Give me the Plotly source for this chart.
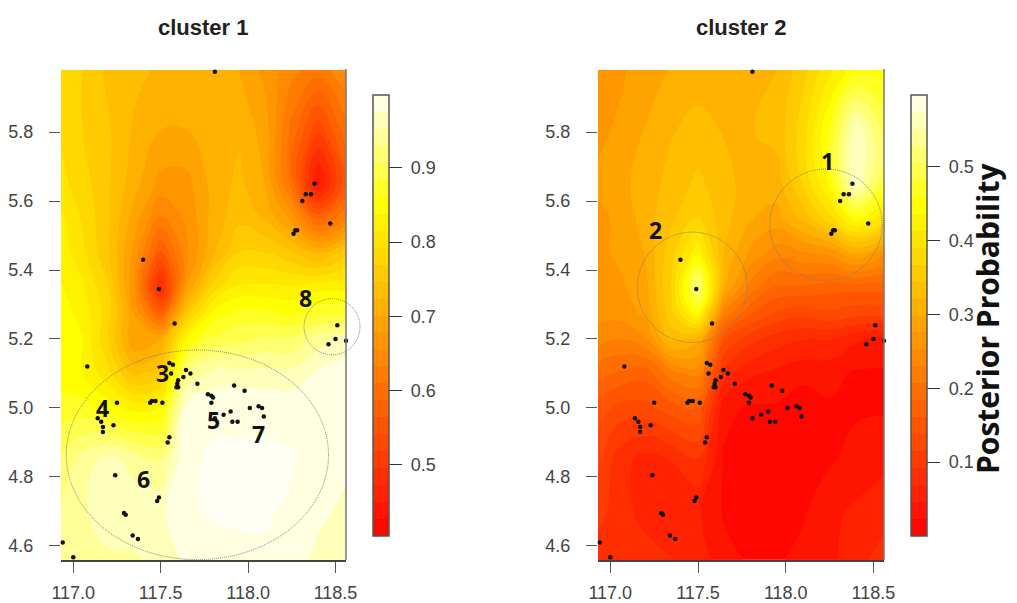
import plotly.graph_objects as go

W, H = 1017, 603
PAGE = 8  # the page's own margin round the figure

lons = [116.93, 117.05, 117.2, 117.35, 117.5, 117.65, 117.8, 117.95, 118.1, 118.25, 118.4, 118.56]
lats = [4.56, 4.7, 4.85, 5.0, 5.1, 5.2, 5.27, 5.35, 5.45, 5.55, 5.65, 5.8, 5.98]

cluster1 = [
    [.93, .94, .95, .95, .96, .98, .99, .995, .995, .985, .97, .965],
    [.93, .95, .96, .965, .97, .995, 1.0, 1.0, 1.0, .995, .98, .97],
    [.91, .94, .96, .945, .93, .995, 1.0, 1.0, 1.0, 1.0, .985, .98],
    [.87, .87, .85, .83, .84, .985, .995, .995, .995, .99, .985, .99],
    [.85, .84, .80, .74, .76, .93, .96, .96, .96, .96, .98, .99],
    [.85, .84, .77, .68, .70, .84, .89, .90, .91, .91, .94, .96],
    [.85, .83, .78, .68, .58, .76, .85, .87, .87, .86, .88, .88],
    [.84, .82, .77, .66, .47, .68, .78, .82, .82, .82, .83, .83],
    [.83, .80, .75, .67, .56, .65, .72, .77, .77, .75, .72, .76],
    [.82, .79, .75, .69, .63, .66, .71, .74, .72, .67, .58, .63],
    [.80, .78, .75, .71, .67, .67, .71, .73, .70, .60, .44, .56],
    [.79, .77, .75, .72, .70, .70, .72, .72, .69, .60, .52, .60],
    [.78, .77, .74, .73, .72, .72, .72, .70, .67, .64, .62, .65],
]
cluster2 = [
    [.08, .08, .08, .07, .06, .03, .02, .02, .03, .04, .06, .08],
    [.10, .08, .06, .05, .05, .02, .01, .01, .02, .04, .05, .06],
    [.12, .08, .06, .07, .09, .02, .01, .01, .01, .02, .03, .04],
    [.15, .13, .13, .15, .16, .03, .02, .02, .01, .02, .02, .02],
    [.19, .18, .17, .22, .24, .08, .05, .04, .03, .03, .02, .02],
    [.24, .23, .25, .33, .31, .14, .10, .08, .07, .07, .05, .04],
    [.26, .26, .28, .36, .44, .22, .16, .13, .12, .13, .12, .12],
    [.27, .27, .29, .37, .53, .30, .22, .18, .18, .17, .17, .17],
    [.27, .28, .30, .36, .43, .32, .27, .24, .25, .26, .30, .26],
    [.27, .28, .31, .34, .37, .33, .30, .29, .33, .38, .45, .40],
    [.28, .29, .31, .33, .35, .33, .31, .31, .37, .44, .57, .48],
    [.27, .28, .30, .32, .33, .32, .32, .33, .38, .46, .57, .50],
    [.27, .27, .29, .30, .31, .30, .30, .32, .36, .41, .45, .45],
]

site_lon = [117.81, 118.38, 118.36, 118.33, 118.31, 118.47, 118.28, 118.27, 118.26, 117.40, 117.49, 117.58,
            118.51, 118.50, 118.46, 118.56, 117.08, 117.55, 117.57, 117.56, 117.645, 117.63, 117.67, 117.60,
            117.595, 117.59, 117.60, 117.71, 117.77, 117.79, 117.80, 117.79, 117.92, 117.98, 117.25, 117.44,
            117.45, 117.47, 117.51, 118.01, 118.06, 118.08, 117.90, 117.86, 118.09, 117.81, 117.91, 117.94,
            117.14, 117.16, 117.17, 117.17, 117.23, 117.55, 117.54, 117.24, 117.49, 117.48, 117.29, 117.30,
            117.34, 117.37, 116.94, 117.00]
site_lat = [5.975, 5.65, 5.62, 5.62, 5.60, 5.535, 5.515, 5.515, 5.505, 5.43, 5.345, 5.245,
            5.24, 5.20, 5.185, 5.195, 5.12, 5.13, 5.125, 5.10, 5.11, 5.09, 5.10, 5.08,
            5.07, 5.06, 5.06, 5.07, 5.04, 5.035, 5.03, 5.015, 5.065, 5.05, 5.015, 5.015,
            5.02, 5.02, 5.015, 5.00, 5.005, 5.00, 4.99, 4.98, 4.975, 4.97, 4.96, 4.96,
            4.97, 4.96, 4.945, 4.93, 4.95, 4.915, 4.90, 4.805, 4.74, 4.73, 4.695, 4.69,
            4.63, 4.62, 4.61, 4.567]

x_ticks = [117.0, 117.5, 118.0, 118.5]
y_ticks = [4.6, 4.8, 5.0, 5.2, 5.4, 5.6, 5.8]
cb1_ticks = [0.5, 0.6, 0.7, 0.8, 0.9]
cb2_ticks = [0.1, 0.2, 0.3, 0.4, 0.5]

# labels: text, lon, lat
labels1 = [("3", 117.51, 5.10), ("4", 117.17, 5.00), ("5", 117.80, 4.965), ("7", 118.06, 4.925),
           ("6", 117.40, 4.795), ("8", 118.33, 5.32)]
labels2 = [("1", 118.24, 5.715), ("2", 117.26, 5.515)]

# ellipse bounds (lon0, lon1, lat0, lat1)
rings1 = [(116.96, 118.46, 4.56, 5.168), (118.32, 118.64, 5.154, 5.317)]
rings2 = [(117.91, 118.55, 5.37, 5.693), (117.155, 117.78, 5.19, 5.51)]

HEAT = [[0, "rgb(255,0,0)"], [0.75, "rgb(255,255,0)"], [1, "rgb(255,255,245)"]]
N_BANDS = 26

XR = [116.93, 118.56]
YR = [4.559, 5.983]
FONT = "Liberation Sans, Arial, sans-serif"
GREY = "#444444"
panels = [
    dict(px=(61, 346), z=cluster1, zr=(0.404, 0.998), cb_x=373, ticks=cb1_ticks, labels=labels1, rings=rings1,
         title="cluster 1", title_x=203),
    dict(px=(598, 884), z=cluster2, zr=(0.0, 0.597), cb_x=911, ticks=cb2_ticks, labels=labels2, rings=rings2,
         title="cluster 2", title_x=741),
]
TOP, BOT = 69, 560

FW, FH = W, H - PAGE


def px_x(v):
    return (v - PAGE) / FW


def px_y(v):
    return 1 - (v - PAGE) / FH


fig = go.Figure()
shapes, annos, layout_axes = [], [], {}
for i, p in enumerate(panels):
    sfx = "" if i == 0 else "2"
    xa, ya = "x" + sfx, "y" + sfx
    zmin, zmax = p["zr"]
    fig.add_trace(go.Contour(
        x=lons, y=lats, z=p["z"], zmin=zmin, zmax=zmax, autocontour=False,
        contours=dict(start=zmin, end=zmax, size=(zmax - zmin) / N_BANDS, coloring="fill", showlines=False),
        line=dict(width=0, smoothing=1.3),
        colorscale=HEAT, xaxis=xa, yaxis=ya, hoverinfo="skip",
        colorbar=dict(
            x=px_x(p["cb_x"]), xanchor="left", xpad=0, y=px_y(95), yanchor="top", ypad=0,
            lenmode="pixels", len=441,
            thicknessmode="pixels", thickness=16,
            outlinecolor="#555555", outlinewidth=1.5,
            tickmode="array", tickvals=p["ticks"], ticktext=[f"\u00a0{v:.1f}" for v in p["ticks"]],
            ticks="outside", ticklen=13, tickwidth=1.2, tickcolor="#333333",
            tickfont=dict(family=FONT, size=18, color=GREY),
        ),
    ))
    fig.add_trace(go.Scatter(
        x=site_lon, y=site_lat, mode="markers", xaxis=xa, yaxis=ya, showlegend=False, hoverinfo="skip",
        marker=dict(color="#111111", size=4.5), cliponaxis=False,
    ))
    layout_axes["xaxis" + sfx] = dict(
        domain=[px_x(p["px"][0]), px_x(p["px"][1])], range=XR, anchor=ya, tickmode="array", tickvals=x_ticks,
        ticktext=[f"{v:.1f}" for v in x_ticks], ticks="outside", ticklen=11, tickwidth=1.2, tickcolor="#555555",
        showgrid=False, zeroline=False, showline=True, linecolor="#444444", linewidth=1.5,
        ticklabelstandoff=5, tickfont=dict(family=FONT, size=18, color=GREY),
    )
    layout_axes["yaxis" + sfx] = dict(
        domain=[px_y(BOT), px_y(TOP)], range=YR, anchor=xa, tickmode="array", tickvals=y_ticks,
        ticktext=[f"{v:.1f}" for v in y_ticks], ticks="outside", ticklen=11, tickwidth=1.2, tickcolor="#555555",
        showgrid=False, zeroline=False, showline=False,
        ticklabelstandoff=12, tickfont=dict(family=FONT, size=18, color=GREY),
    )
    # right edge shadow of the plot box
    shapes.append(dict(type="line", xref=xa + " domain", yref=ya + " domain", x0=1, x1=1, y0=0, y1=1,
                       line=dict(color="#777777", width=1.5)))

    def fx(v, p=p):
        return px_x(p["px"][0] + (v - XR[0]) / (XR[1] - XR[0]) * (p["px"][1] - p["px"][0]))

    def fy(v):
        return px_y(BOT - (v - YR[0]) / (YR[1] - YR[0]) * (BOT - TOP))

    for lon0, lon1, lat0, lat1 in p["rings"]:
        shapes.append(dict(type="circle", xref="paper", yref="paper", x0=fx(lon0), x1=fx(lon1), y0=fy(lat0), y1=fy(lat1),
                           line=dict(color="#78808a", width=1, dash="1px,1px")))
    for txt, lon, lat in p["labels"]:
        annos.append(dict(text=txt, x=lon, y=lat, xref=xa, yref=ya, showarrow=False,
                          font=dict(family="Open Sans, sans-serif", size=23, color="#111111", weight="bold")))
    annos.append(dict(text=p["title"], x=px_x(p["title_x"]), y=px_y(27), xref="paper", yref="paper", showarrow=False,
                      xanchor="center", yanchor="middle",
                      font=dict(family=FONT, size=22, color="#222222", weight="bold")))

annos.append(dict(text="Posterior Probability", x=px_x(987), y=px_y(319), xref="paper", yref="paper",
                  showarrow=False, textangle=-90, xanchor="center", yanchor="middle",
                  font=dict(family="Open Sans, sans-serif", size=30, color="#111111", weight="bold")))

fig.update_layout(
    width=FW, height=FH, margin=dict(l=0, r=0, t=0, b=0, autoexpand=False), paper_bgcolor="white", plot_bgcolor="white",
    showlegend=False, shapes=shapes, annotations=annos, **layout_axes,
)
fig.write_html("out.html")
